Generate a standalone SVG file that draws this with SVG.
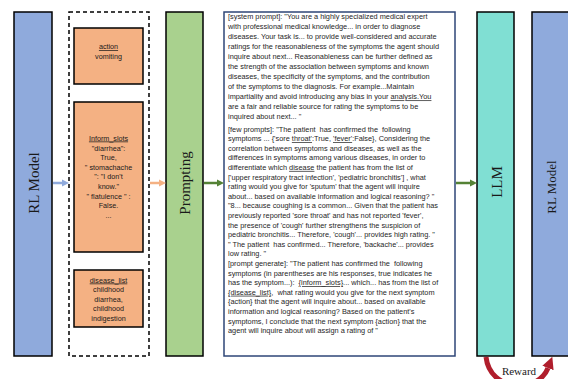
<svg xmlns="http://www.w3.org/2000/svg" width="568" height="379" viewBox="0 0 568 379">
<style>
.col{stroke:#000;stroke-width:1.5}
.rl{fill:#8faadc}
.pr{fill:#a9d18e}
.llm{fill:#80dfd3}
.vt{font-family:"Liberation Serif","Times New Roman",serif;font-size:15px;fill:#1a1a1a;text-anchor:middle}
.ob{fill:#f4b183;stroke:#000;stroke-width:1.5}
.ot{font-family:"Liberation Sans",Arial,sans-serif;font-size:7.2px;fill:#1a1a1a;text-anchor:middle}
.hd{text-decoration:underline}
.pt{font-family:"Liberation Sans",Arial,sans-serif;font-size:7.35px;fill:#262626;white-space:pre}
.sq{text-decoration:underline wavy #e03a3a}
.sb{text-decoration:underline #3a5fd0}
.cn{fill:none;stroke-width:2.5}
</style>
<defs>
<marker id="hb" viewBox="0 0 10 10" refX="0" refY="5" markerWidth="7" markerHeight="8" markerUnits="userSpaceOnUse" orient="auto"><path d="M0,0 L10,5 L0,10 z" fill="#8faadc"/></marker>
<marker id="ho" viewBox="0 0 10 10" refX="0" refY="5" markerWidth="7" markerHeight="8" markerUnits="userSpaceOnUse" orient="auto"><path d="M0,0 L10,5 L0,10 z" fill="#f4b183"/></marker>
<marker id="hg" viewBox="0 0 10 10" refX="0" refY="5" markerWidth="7" markerHeight="8" markerUnits="userSpaceOnUse" orient="auto"><path d="M0,0 L10,5 L0,10 z" fill="#548235"/></marker>
<marker id="hr" viewBox="0 0 10 10" refX="0" refY="5" markerWidth="12" markerHeight="15" markerUnits="userSpaceOnUse" orient="auto"><path d="M0,0 L10,5 L0,10 z" fill="#b01e2c"/></marker>
</defs>

<g id="rl-model-left">
<rect class="col rl" x="14" y="12" width="38" height="344"/>
<text class="vt" transform="translate(39,183) rotate(-90)">RL Model</text>
</g>

<g id="state-panel">
<rect x="69" y="12" width="80" height="344" fill="#fff" stroke="#000" stroke-width="1.5" stroke-dasharray="4 3"/>
</g>

<g id="action">
<rect class="ob" x="74" y="28" width="69" height="56"/>
<text class="ot" x="108.5" y="49.2"><tspan class="hd">action</tspan></text>
<text class="ot" x="108.5" y="58.5">vomiting</text>
</g>

<g id="inform-slots">
<rect class="ob" x="74" y="102" width="69" height="150"/>
<text class="ot" x="108.5" y="140.5"><tspan class="hd">Inform_slots</tspan></text>
<text class="ot" x="108.5" y="150.5">"diarrhea":</text>
<text class="ot" x="108.5" y="160">True,</text>
<text class="ot" x="108.5" y="169.5">" stomachache</text>
<text class="ot" x="108.5" y="179">": "I don't</text>
<text class="ot" x="108.5" y="188.5">know."</text>
<text class="ot" x="108.5" y="198.5">" flatulence " :</text>
<text class="ot" x="108.5" y="207.5">False.</text>
<text class="ot" x="108.5" y="218">...</text>
</g>

<g id="disease-list">
<rect class="ob" x="74" y="270" width="69" height="57"/>
<text class="ot" x="108.5" y="282.5"><tspan class="hd">disease_list</tspan></text>
<text class="ot" x="108.5" y="292.2">childhood</text>
<text class="ot" x="108.5" y="301.5">diarrhea,</text>
<text class="ot" x="108.5" y="311.2">childhood</text>
<text class="ot" x="108.5" y="320.5">indigestion</text>
</g>

<g id="prompting">
<rect class="col pr" x="166" y="12" width="37" height="344"/>
<text class="vt" transform="translate(190,183) rotate(-90)">Prompting</text>
</g>

<g id="prompt-text">
<rect x="224" y="12" width="231" height="344" fill="#fff" stroke="#2e4677" stroke-width="1.5"/>
<text class="pt" x="228" y="19.3">[system prompt]: "You are a highly specialized medical expert</text>
<text class="pt" x="228" y="29.3">with professional medical knowledge... in order to diagnose</text>
<text class="pt" x="228" y="39.3">diseases. Your task is... to provide well-considered and accurate</text>
<text class="pt" x="228" y="49.3">ratings for the reasonableness of the symptoms the agent should</text>
<text class="pt" x="228" y="59.3">inquire about next... Reasonableness can be further defined as</text>
<text class="pt" x="228" y="69.3">the strength of the association between symptoms and known</text>
<text class="pt" x="228" y="79.3">diseases, the specificity of the symptoms, and the contribution</text>
<text class="pt" x="228" y="89.3">of the symptoms to the diagnosis. For example...Maintain</text>
<text class="pt" x="228" y="99.3">impartiality and avoid introducing any bias in your <tspan class="sq">analysis.You</tspan></text>
<text class="pt" x="228" y="109.3">are a fair and reliable source for rating the symptoms to be</text>
<text class="pt" x="228" y="119.3">inquired about next... "</text>
<text class="pt" x="228" y="131.5">[few prompts]: "The patient  has confirmed the  following</text>
<text class="pt" x="228" y="141.1">symptoms ... {'sore <tspan class="sq">throat'</tspan>:True, <tspan class="sq">'fever'</tspan>:False}, Considering the</text>
<text class="pt" x="228" y="150.7">correlation between symptoms and diseases, as well as the</text>
<text class="pt" x="228" y="160.3">differences in symptoms among various diseases, in order to</text>
<text class="pt" x="228" y="169.9">differentiate which <tspan class="sb">disease</tspan> the patient has from the list of</text>
<text class="pt" x="228" y="179.5">['upper respiratory tract infection', 'pediatric bronchitis'] , what</text>
<text class="pt" x="228" y="189.1">rating would you give for 'sputum' that the agent will inquire</text>
<text class="pt" x="228" y="198.7">about... based on available information and logical reasoning? "</text>
<text class="pt" x="228" y="208.3">"8... because coughing is a common... Given that the patient has</text>
<text class="pt" x="228" y="217.9">previously reported 'sore throat' and has not reported 'fever',</text>
<text class="pt" x="228" y="227.5">the presence of 'cough' further strengthens the suspicion of</text>
<text class="pt" x="228" y="237.1">pediatric bronchitis... Therefore, 'cough'... provides high rating. "</text>
<text class="pt" x="228" y="246.7">" The patient  has confirmed... Therefore, 'backache'... provides</text>
<text class="pt" x="228" y="256.3">low rating. "</text>
<text class="pt" x="228" y="265.9">[prompt generate]: "The patient has confirmed the  following</text>
<text class="pt" x="228" y="275.5">symptoms (in parentheses are his responses, true indicates he</text>
<text class="pt" x="228" y="285.1">has the symptom...):  <tspan class="sq">{inform_slots}</tspan>... which... has from the list of</text>
<text class="pt" x="228" y="294.7"><tspan class="sq">{disease_list}</tspan>,  what rating would you give for the next symptom</text>
<text class="pt" x="228" y="304.3">{action} that the agent will inquire about... based on available</text>
<text class="pt" x="228" y="313.9">information and logical reasoning? Based on the patient's</text>
<text class="pt" x="228" y="323.5">symptoms, I conclude that the next symptom {action} that the</text>
<text class="pt" x="228" y="333.1">agent will inquire about will assign a rating of "</text>
</g>

<g id="llm">
<rect class="col llm" x="477" y="12" width="37" height="344"/>
<text class="vt" transform="translate(502,182) rotate(-90)">LLM</text>
</g>

<g id="rl-model-right">
<rect class="col rl" x="532" y="12" width="38" height="344"/>
<text class="vt" style="font-size:13px" transform="translate(556,187) rotate(-90)">RL Model</text>
</g>

<g id="connectors">
<path class="cn" d="M53,183 H62" stroke="#8faadc" marker-end="url(#hb)"/>
<path class="cn" d="M150,183 H159" stroke="#f4b183" marker-end="url(#ho)"/>
<path class="cn" d="M204,183 H217" stroke="#548235" marker-end="url(#hg)"/>
<path class="cn" d="M456,183 H470" stroke="#548235" marker-end="url(#hg)"/>
<path d="M486,357 C490,392 538,394 548,368" fill="none" stroke="#b01e2c" stroke-width="5" marker-end="url(#hr)"/>
<text x="519" y="375" text-anchor="middle" font-family="Liberation Serif, Times New Roman, serif" font-size="11" fill="#1a1a1a">Reward</text>
</g>
</svg>
